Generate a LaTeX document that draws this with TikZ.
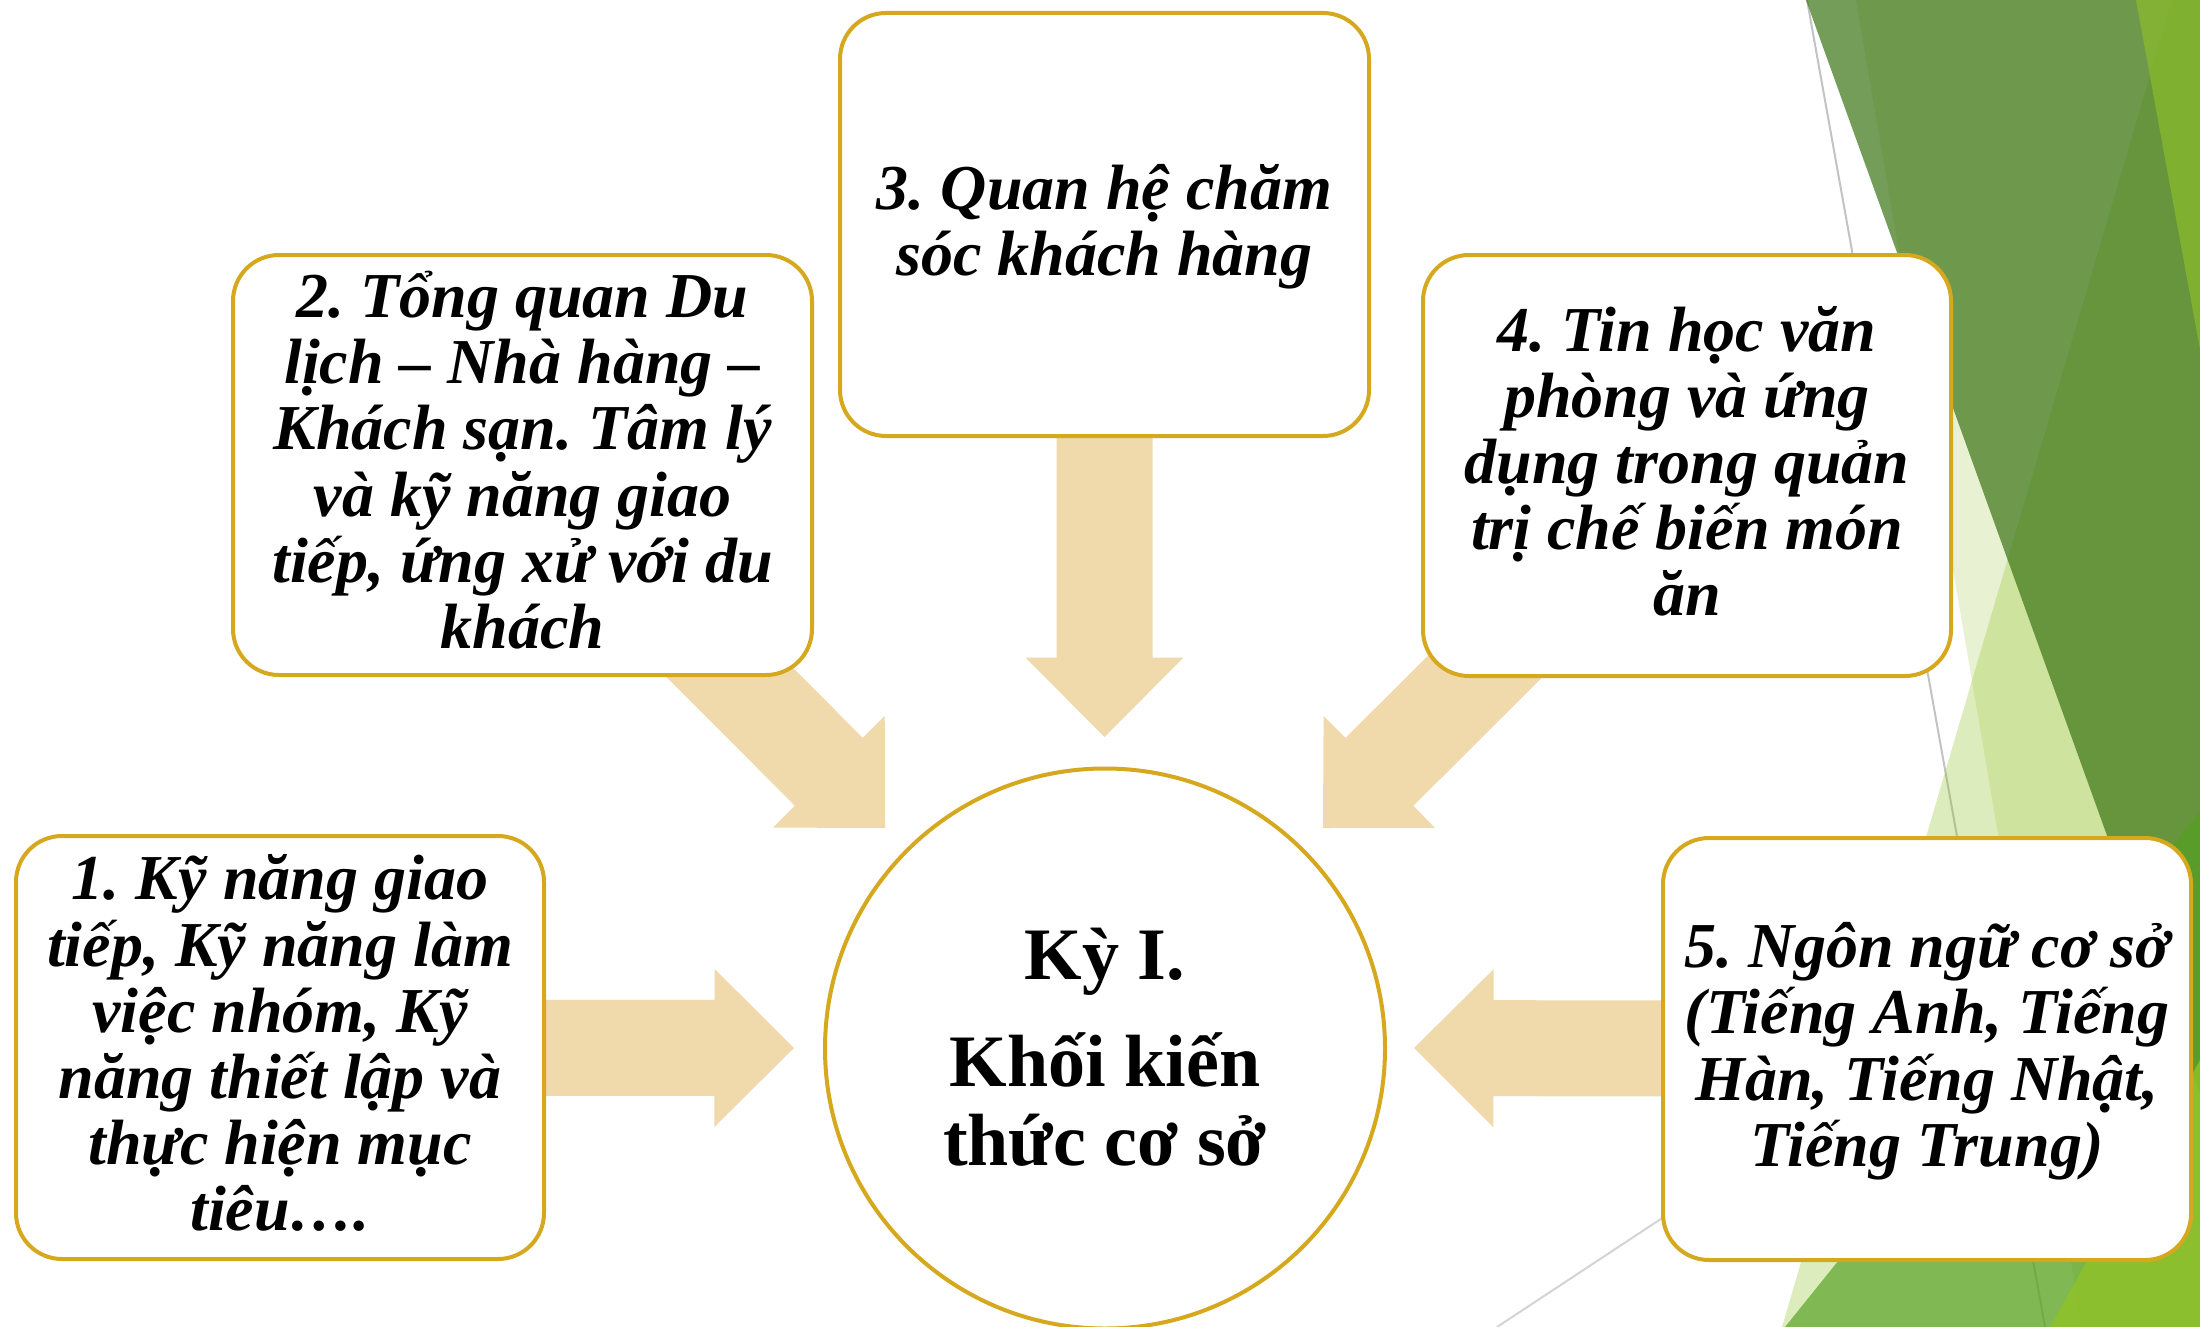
\documentclass[tikz,border=0pt]{standalone}
\usepackage{fontspec}
\setmainfont{Liberation Serif}
\usetikzlibrary{calc}
\frenchspacing
\definecolor{gold}{RGB}{213,168,30}
\definecolor{tanfill}{RGB}{240,217,170}
\definecolor{accA}{RGB}{144,194,38}
\definecolor{accB}{RGB}{84,160,33}
\definecolor{accBdark}{RGB}{63,120,25}
\definecolor{lineGreyA}{RGB}{195,195,195}
\definecolor{lineGreyB}{RGB}{212,212,212}
\pgfdeclarelayer{back}
\pgfdeclarelayer{arrows}
\pgfsetlayers{back,arrows,main}
\newcommand\TL[1]{\rule[-7.6pt]{0pt}{33.1pt}\smash{#1}}
\newcommand\CL[1]{\rule[-8pt]{0pt}{39.5pt}\smash{#1}}
\newcommand\blockarrow[2]{%
  \fill[arrowfill] let \p1=(#1), \p2=(#2), \n1={atan2(\y2-\y1,\x2-\x1)} in
    (\p2) -- ($(\p2)+(\n1+180:39.75pt)+(\n1+90:39.5pt)$)
    -- ($(\p2)+(\n1+180:39.75pt)+(\n1+90:24pt)$)
    -- ($(\p1)+(\n1+90:24pt)$)
    -- ($(\p1)+(\n1-90:24pt)$)
    -- ($(\p2)+(\n1+180:39.75pt)+(\n1-90:24pt)$)
    -- ($(\p2)+(\n1+180:39.75pt)+(\n1-90:39.5pt)$)
    -- cycle;}
\tikzset{
  card/.style={draw=gold, line width=2pt, fill=white, rounded corners=23pt,
    inner sep=0pt, align=center, minimum width=264pt, minimum height=211.5pt,
    font=\fontsize{32}{33.1}\selectfont\bfseries\itshape\frenchspacing},
  hub/.style={circle, draw=gold, line width=2pt, fill=white, inner sep=0pt,
    minimum size=280pt, align=center,
    font=\fontsize{37}{39.5}\selectfont\bfseries\frenchspacing},
  arrowfill/.style={fill=tanfill},
}
\begin{document}
\begin{tikzpicture}[x=0.5pt,y=-0.5pt]
\useasboundingbox (0,0) rectangle (2200,1327);

% decorative background facets
\begin{pgfonlayer}{back}
\fill[white] (0,0) rectangle (2200,1327);
\begin{scope}
\clip (0,0) rectangle (2200,1327);
\draw[lineGreyA, line width=1pt] (1807,0) -- (2045,1327);
\draw[lineGreyB, line width=1pt] (1497,1327) -- (2240,837);
\fill[accA, fill opacity=0.2] (1856,0) -- (2400,0) -- (2400,1327) -- (2082,1327) -- cycle;
\fill[accA, fill opacity=0.3] (2172,0) -- (2400,0) -- (2400,1327) -- (1782,1327) -- cycle;
\fill[accBdark, fill opacity=0.72] (1806,0) -- (2400,0) -- (2400,1327) -- (2284,1327) -- cycle;
\fill[accA, fill opacity=0.6] (2136,0) -- (2400,0) -- (2400,1327) -- (2379,1327) -- cycle;
\fill[accB, fill opacity=0.68] (1785,1327) -- (2400,563) -- (2400,1327) -- cycle;
\fill[accA, fill opacity=0.8] (2050,1327) -- (2200,1060) -- (2400,1060) -- (2400,1327) -- cycle;
\end{scope}
\end{pgfonlayer}

% boxes
\node[card] (b1) at (280,1047.5)
  {\TL{1. Kỹ năng giao}\\\TL{tiếp, Kỹ năng làm}\\\TL{việc nhóm, Kỹ}\\\TL{năng thiết lập và}\\\TL{thực hiện mục}\\\TL{tiêu….}};
\node[card, minimum width=289.5pt, minimum height=210pt] (b2) at (522.5,465)
  {\TL{2. Tổng quan Du}\\\TL{lịch – Nhà hàng –}\\\TL{Khách sạn. Tâm lý}\\\TL{và kỹ năng giao}\\\TL{tiếp, ứng xử với du}\\\TL{khách}};
\node[card, minimum width=264.5pt] (b3) at (1104.5,224.5)
  {\TL{3. Quan hệ chăm}\\\TL{sóc khách hàng}};
\node[card, minimum height=210.5pt] (b4) at (1687,465.5)
  {\TL{4. Tin học văn}\\\TL{phòng và ứng}\\\TL{dụng trong quản}\\\TL{trị chế biến món}\\\TL{ăn}};
\node[card, minimum height=211pt] (b5) at (1927,1049)
  {\TL{5. Ngôn ngữ cơ sở}\\\TL{(Tiếng Anh, Tiếng}\\\TL{Hàn, Tiếng Nhật,}\\\TL{Tiếng Trung)}};
\node[hub] (c) at (1105,1048.5)
  {\CL{Kỳ I.}\\[14pt]\CL{Khối kiến}\\\CL{thức cơ sở}};

% arrow tips
\coordinate (t1) at (794,1048);
\coordinate (t2) at (885,828);
\coordinate (t3) at (1104.5,737);
\coordinate (t4) at (1323,828);
\coordinate (t5) at (1414,1048);

\begin{pgfonlayer}{arrows}
\blockarrow{b1.center}{t1}
\blockarrow{b2.center}{t2}
\blockarrow{b3.center}{t3}
\blockarrow{b4.center}{t4}
\blockarrow{b5.center}{t5}
\end{pgfonlayer}
\end{tikzpicture}
\end{document}
